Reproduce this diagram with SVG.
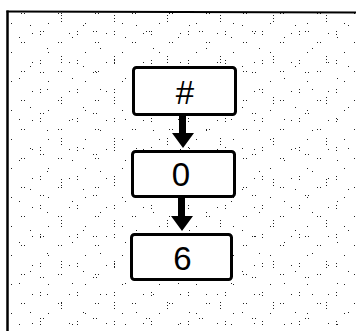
<svg xmlns="http://www.w3.org/2000/svg" width="356" height="331" viewBox="0 0 356 331">
  <defs>
    <style>
      .box { fill: #ffffff; stroke: #000000; stroke-width: 3; }
      .lbl { font-family: "Liberation Sans", Arial, sans-serif; font-size: 33px; fill: #000000; text-anchor: middle; }
      .arrow { fill: #000000; stroke: none; }
      .frame { stroke: #000000; fill: none; }
    </style>
    <pattern id="dotsA" x="0" y="0" width="37" height="29" patternUnits="userSpaceOnUse">
      <rect x="3" y="2" width="1" height="1" fill="#222"/>
      <rect x="3" y="5" width="1" height="1" fill="#222"/>
      <rect x="21" y="13" width="1" height="1" fill="#222"/>
      <rect x="24" y="13" width="1" height="1" fill="#222"/>
      <rect x="11" y="23" width="1" height="1" fill="#222"/>
      <rect x="32" y="4" width="1" height="1" fill="#222"/>
    </pattern>
    <pattern id="dotsB" x="0" y="0" width="53" height="41" patternUnits="userSpaceOnUse">
      <rect x="8" y="15" width="1" height="1" fill="#222"/>
      <rect x="8" y="18" width="1" height="1" fill="#222"/>
      <rect x="8" y="21" width="1" height="1" fill="#222"/>
      <rect x="40" y="31" width="1" height="1" fill="#222"/>
      <rect x="43" y="31" width="1" height="1" fill="#222"/>
      <rect x="19" y="37" width="1" height="1" fill="#222"/>
      <rect x="47" y="7" width="1" height="1" fill="#222"/>
      <rect x="30" y="25" width="1" height="1" fill="#222"/>
    </pattern>
  </defs>

  <rect x="0" y="0" width="356" height="331" fill="#ffffff"/>
  <rect x="9" y="13" width="347" height="318" fill="url(#dotsA)"/>
  <rect x="9" y="13" width="347" height="318" fill="url(#dotsB)"/>

  <g id="frame">
    <line class="frame" x1="7.5" y1="10.5" x2="7.5" y2="331" stroke-width="2.5"/>
    <line class="frame" x1="6.5" y1="11.5" x2="356" y2="12.5" stroke-width="2"/>
  </g>

  <g id="connectors">
    <path class="arrow" d="M179 116 H186 V133 H194 L183 148 L172 133 H179 Z"/>
    <path class="arrow" d="M178 198 H185 V216 H193 L182 231 L171 216 H178 Z"/>
  </g>

  <g id="node-hash">
    <rect class="box" x="133.5" y="67.5" width="102" height="47" rx="3"/>
    <text class="lbl" x="185" y="104">#</text>
  </g>
  <g id="node-0">
    <rect class="box" x="132.5" y="151.5" width="102" height="45" rx="3"/>
    <text class="lbl" x="181" y="186">0</text>
  </g>
  <g id="node-6">
    <rect class="box" x="131.5" y="234.5" width="100" height="45" rx="3"/>
    <text class="lbl" x="182.5" y="270">6</text>
  </g>
</svg>
